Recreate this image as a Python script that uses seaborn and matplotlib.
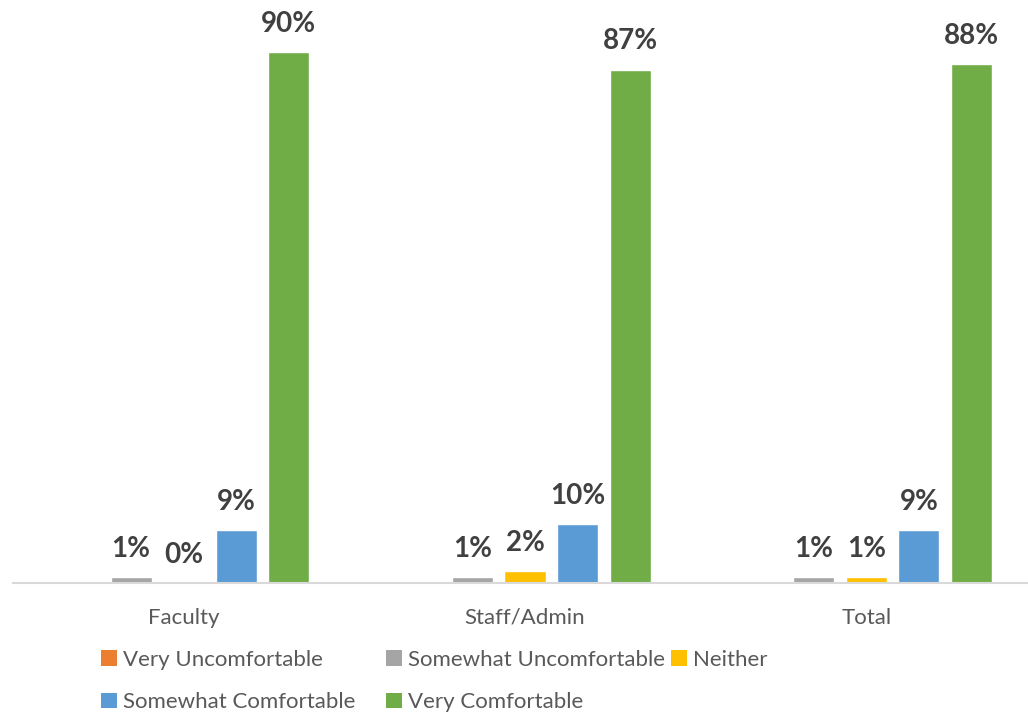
import matplotlib
matplotlib.use("Agg")
import matplotlib.pyplot as plt
from matplotlib.patches import Patch
import seaborn as sns
import pandas as pd

groups = ["Faculty", "Staff/Admin", "Total"]
responses = ["Very Uncomfortable", "Somewhat Uncomfortable", "Neither",
             "Somewhat Comfortable", "Very Comfortable"]
very_uncomfortable = [0, 0, 0]
somewhat_uncomfortable = [1, 1, 1]
neither = [0, 2, 1]
somewhat_comfortable = [9, 10, 9]
very_comfortable = [90, 87, 88]
colors = ["#ED7D31", "#A5A5A5", "#FFC000", "#5B9BD5", "#70AD47"]

series = [very_uncomfortable, somewhat_uncomfortable, neither,
          somewhat_comfortable, very_comfortable]
rows = []
for resp, vals in zip(responses, series):
    for g, v in zip(groups, vals):
        rows.append({"group": g, "response": resp, "pct": v})
df = pd.DataFrame(rows)

sns.set_style("white")
plt.rcParams["font.family"] = ["Lato", "DejaVu Sans"]

fig = plt.figure(figsize=(10.28, 7.14), dpi=100)
ax = fig.add_axes([13 / 1028, 1 - 583 / 714, 1024 / 1028, 590 / 714])

sns.barplot(data=df, x="group", y="pct", hue="response", order=groups,
            hue_order=responses, palette=colors, width=0.77, gap=0.22,
            ax=ax, legend=False, saturation=1)

ax.set_ylim(0, 100)
ax.set_xlim(-0.5, 2.5)
ax.set_xlabel("")
ax.set_ylabel("")
ax.set_yticks([])
for s in ["left", "right", "top"]:
    ax.spines[s].set_visible(False)
ax.spines["bottom"].set_color("#D9D9D9")
ax.spines["bottom"].set_linewidth(1.5)
ax.tick_params(axis="x", length=0, pad=18, labelsize=16, labelcolor="#595959")

# value labels for every series except the empty first one
for cont, resp in zip(ax.containers, responses):
    if resp == "Very Uncomfortable":
        continue
    ax.bar_label(cont, labels=[f"{v:.0f}%" for v in cont.datavalues],
                 padding=11, fontsize=20, fontweight="bold", color="#404040")

# legend laid out as three fixed-width columns
handles = [Patch(facecolor=c, edgecolor="none") for c in colors]
columns = [[0, 3], [1, 4], [2]]
col_x = [101, 386, 671]
for idx, x in zip(columns, col_x):
    leg = fig.legend([handles[i] for i in idx], [responses[i] for i in idx],
                     loc="upper left", bbox_to_anchor=(x / 1028, 1 - 650 / 714),
                     ncol=1, frameon=False, fontsize=16, labelcolor="#595959",
                     handlelength=0.7, handleheight=0.7, handletextpad=0.3,
                     labelspacing=1.0, borderaxespad=0, borderpad=0)

fig.savefig("out.png", dpi=100)
